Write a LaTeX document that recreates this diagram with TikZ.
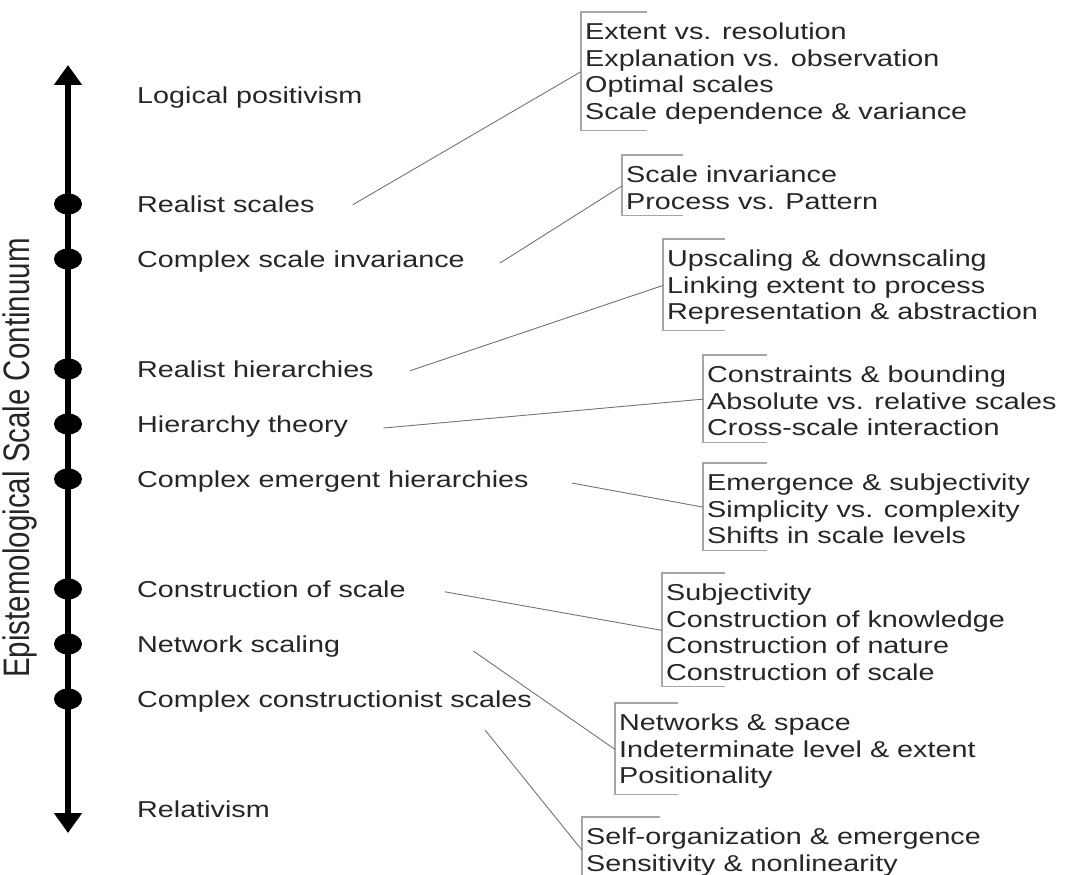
\documentclass[tikz,border=0pt]{standalone}
\usepackage{fontspec}
\setmainfont{Liberation Sans}[FakeStretch=1.25]
\newfontfamily\axisfont{Liberation Sans}
\usetikzlibrary{shapes.geometric, arrows.meta, positioning}

\begin{document}
\begin{tikzpicture}[x=1pt, y=-1pt,
        level/.style = {
            anchor=base west,
            inner sep=0pt,
            text=black!85,
            font=\fontsize{23}{26.5}\selectfont
        },
        topics/.style = {
            anchor=north west,
            align=left,
            inner xsep=4pt,
            inner ysep=6pt,
            text=black!85,
            font=\fontsize{23}{26.5}\selectfont
        },
        dot/.style = {
            ellipse,
            fill=black,
            minimum width=28pt,
            minimum height=21pt,
            inner sep=0pt
        },
        axis/.style = {line width=6pt, {Triangle[width=27pt, length=20pt]}-{Triangle[width=27pt, length=20pt]}},
        link/.style = {draw=black!55, line width=0.9pt},
        bracket/.style = {draw=black!35, line width=1.3pt}
        ]

        \useasboundingbox (0,0) rectangle (1066,875);

        % continuum
        \coordinate (top) at (68,65);
        \coordinate (bottom) at (68,833);
        \draw[axis] (bottom) -- (top);

        \node (axis_label) [rotate=90, yscale=1.25, inner sep=0pt, text=black!85, font=\axisfont\fontsize{29.5}{30}\selectfont] at (20,458) {Epistemological Scale Continuum};

        \node (d_rs) [dot] at (68,204) {};
        \node (d_csi) [dot] at (68,259) {};
        \node (d_rh) [dot] at (68,369) {};
        \node (d_ht) [dot] at (68,424) {};
        \node (d_ceh) [dot] at (68,479) {};
        \node (d_cos) [dot] at (68,589) {};
        \node (d_ns) [dot] at (68,644) {};
        \node (d_ccs) [dot] at (68,699) {};

        % positions on the continuum
        \node (lp) [level] at (137,103) {Logical positivism};
        \node (rs) [level] at (137,212) {Realist scales};
        \node (csi) [level] at (137,267) {Complex scale invariance};
        \node (rh) [level] at (137,377) {Realist hierarchies};
        \node (ht) [level] at (137,432) {Hierarchy theory};
        \node (ceh) [level] at (137,487) {Complex emergent hierarchies};
        \node (cos) [level] at (137,597) {Construction of scale};
        \node (ns) [level] at (137,652) {Network scaling};
        \node (ccs) [level] at (137,707) {Complex constructionist scales};
        \node (rel) [level] at (137,817) {Relativism};

        % topics (brackets start 5pt above the text box)
        \node (t_rs) [topics] at (581,17) {Extent vs. resolution\\Explanation vs. observation\\Optimal scales\\Scale dependence \& variance};
        \node (t_csi) [topics] at (622,160) {Scale invariance\\Process vs. Pattern};
        \node (t_rh) [topics] at (663,244) {Upscaling \& downscaling\\Linking extent to process\\Representation \& abstraction};
        \node (t_ht) [topics] at (703,360) {Constraints \& bounding\\Absolute vs. relative scales\\Cross-scale interaction};
        \node (t_ceh) [topics] at (703,468) {Emergence \& subjectivity\\Simplicity vs. complexity\\Shifts in scale levels};
        \node (t_cos) [topics] at (662,578) {Subjectivity\\Construction of knowledge\\Construction of nature\\Construction of scale};
        \node (t_ns) [topics] at (615,708) {Networks \& space\\Indeterminate level \& extent\\Positionality};
        \node (t_ccs) [topics] at (582,822) {Self-organization \& emergence\\Sensitivity \& nonlinearity};

        \draw[bracket] ([shift={(66pt,5pt)}]t_rs.north west) -| (t_rs.south west) -- +(66,0);
        \draw[bracket] ([shift={(61pt,5pt)}]t_csi.north west) -| (t_csi.south west) -- +(61,0);
        \draw[bracket] ([shift={(62pt,5pt)}]t_rh.north west) -| (t_rh.south west) -- +(62,0);
        \draw[bracket] ([shift={(64pt,5pt)}]t_ht.north west) -| (t_ht.south west) -- +(64,0);
        \draw[bracket] ([shift={(64pt,5pt)}]t_ceh.north west) -| (t_ceh.south west) -- +(64,0);
        \draw[bracket] ([shift={(63pt,5pt)}]t_cos.north west) -| (t_cos.south west) -- +(63,0);
        \draw[bracket] ([shift={(63pt,5pt)}]t_ns.north west) -| (t_ns.south west) -- +(63,0);
        \draw[bracket] ([shift={(78pt,5pt)}]t_ccs.north west) -| (t_ccs.south west) -- +(78,0);

        \draw[link] ([shift={(38,1)}]rs.east) -- ([yshift=2]t_rs.west);
        \draw[link] ([shift={(35,2)}]csi.east) -- ([yshift=2]t_csi.west);
        \draw[link] ([shift={(36,2)}]rh.east) -- ([yshift=2]t_rh.west);
        \draw[link] ([shift={(35,2)}]ht.east) -- ([yshift=2]t_ht.west);
        \draw[link] ([shift={(43,2)}]ceh.east) -- ([yshift=2]t_ceh.west);
        \draw[link] ([shift={(39,3)}]cos.east) -- ([yshift=2]t_cos.west);
        \draw[link] ([shift={(133,5)}]ns.east) -- ([yshift=2]t_ns.west);
        \draw[link] ([shift={(-47,29)}]ccs.east) -- ([yshift=2]t_ccs.west);

    \end{tikzpicture}
\end{document}
